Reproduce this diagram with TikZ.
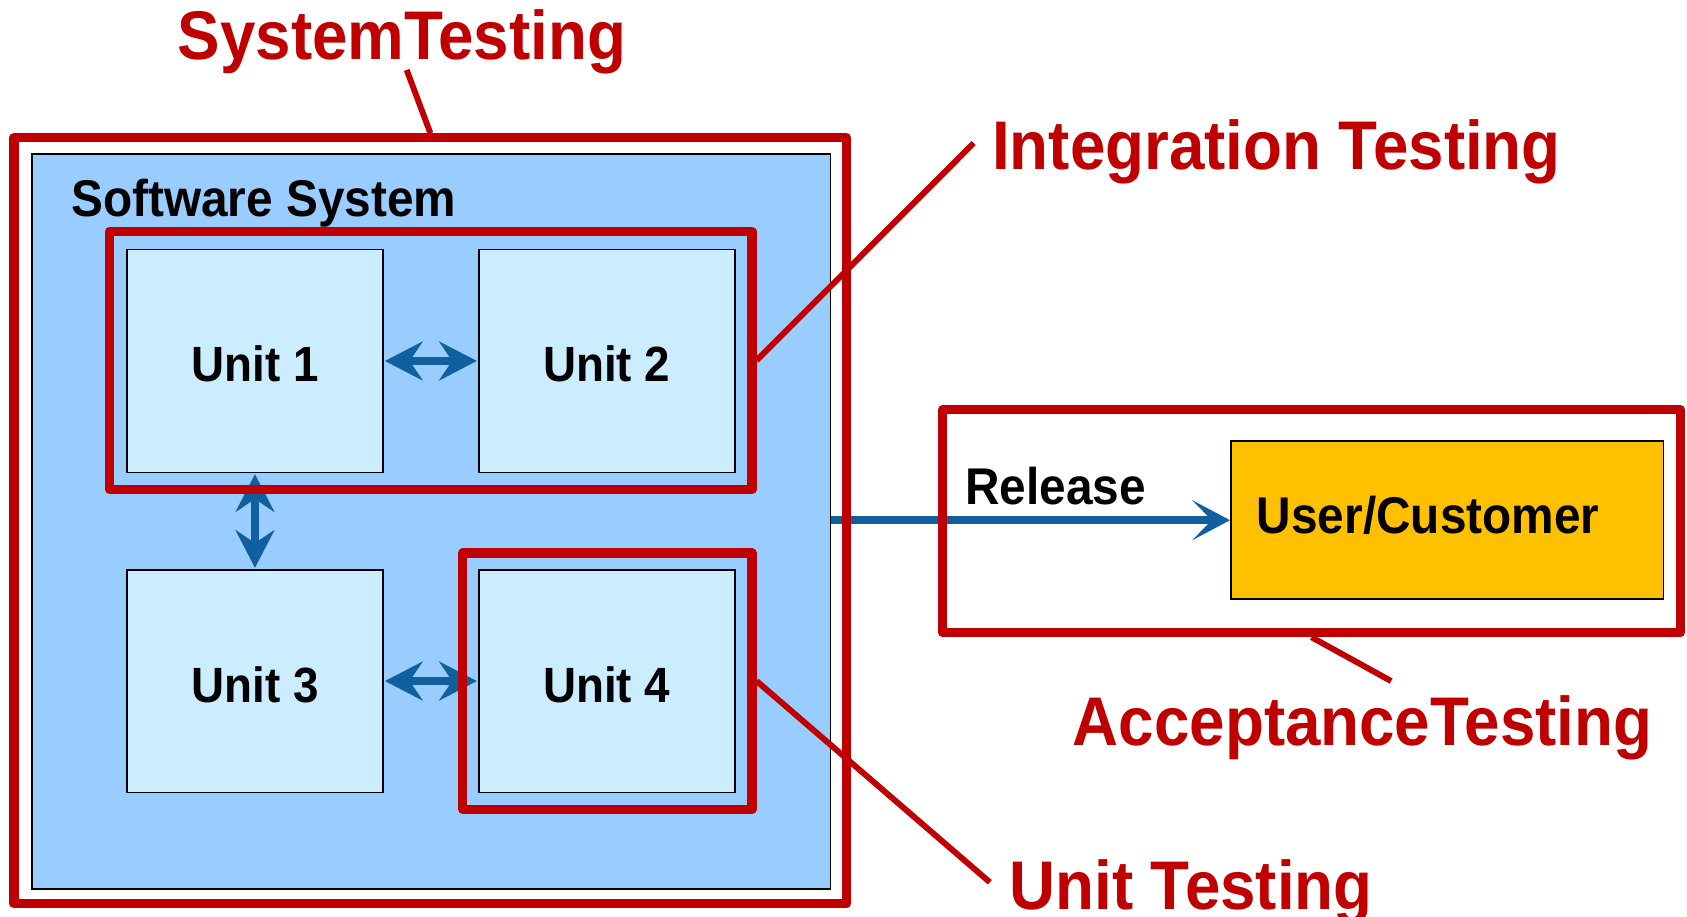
\documentclass[tikz,border=0pt]{standalone}
\usepackage{fontspec}
\setmainfont{Liberation Sans}[FakeStretch=0.925]
\usetikzlibrary{arrows.meta}
\definecolor{tred}{RGB}{192,0,0}
\definecolor{sysblue}{RGB}{153,204,255}
\definecolor{unitblue}{RGB}{204,236,255}
\definecolor{arrblue}{RGB}{16,96,160}
\definecolor{userorange}{RGB}{255,192,0}
\tikzset{
  redbox/.style={draw=tred, line width=8.5pt, line join=round, inner sep=0pt},
  unitbox/.style={draw=black, line width=1.5pt, fill=unitblue, minimum width=238pt, minimum height=207pt, font=\fontsize{46}{50}\selectfont\bfseries, inner sep=0pt, text height=39pt, text depth=0pt},
  sysbox/.style={draw=black, line width=1.5pt, fill=sysblue, inner sep=0pt},
  userbox/.style={draw=black, line width=1.5pt, fill=userorange, inner sep=0pt},
  leader/.style={draw=tred, line width=5.5pt},
  redlabel/.style={text=tred, font=\fontsize{64}{70}\selectfont\bfseries, inner sep=0pt, anchor=base west},
  blacklabel/.style={text=black, font=\fontsize{48}{52}\selectfont\bfseries, inner sep=0pt, anchor=base west},
  dbl/.style={draw=arrblue, line width=8pt, {Stealth[length=35pt,width=36pt,inset=12pt]}-{Stealth[length=35pt,width=36pt,inset=12pt]}, shorten <=1pt, shorten >=1pt},
  relarrow/.style={draw=arrblue, line width=7pt, -{Stealth[length=35pt,width=37pt,inset=18pt]}}
}
\begin{document}
\begin{tikzpicture}[x=1pt,y=-1pt]
\useasboundingbox (0,0) rectangle (1568,852);
% software system box
\node[sysbox, minimum width=742pt, minimum height=683pt] (sys) at (401,484.5) {};
\node[blacklabel] (swlabel) at (66,201) {Software System};
% units
\node[unitbox] (u1) at (237,335.5) {Unit 1};
\node[unitbox] (u2) at (564,335.5) {Unit 2};
\node[unitbox] (u3) at (237,633) {Unit 3};
\node[unitbox] (u4) at (564,633) {Unit 4};
% arrows between units
\draw[dbl] (u1) -- (u2);
\draw[dbl] (u1) -- (u3);
\draw[dbl] (u3) -- (u4);
% user box
\node[userbox, minimum width=402pt, minimum height=147pt] (user) at (1345,483.5) {};
\node[blacklabel] (usertext) at (1168,496) {User/Customer};
% release arrow
\draw[relarrow] (sys.east |- user.west) -- (user.west);
\node[blacklabel] (rel) at (897,469) {Release};
% red test boxes
\node[redbox, minimum width=774pt, minimum height=712pt] (systest) at (400,484) {};
\node[redbox, minimum width=597pt, minimum height=240pt] (inttest) at (400.5,335) {};
\node[redbox, minimum width=269pt, minimum height=238pt] (unittest) at (564.5,633) {};
\node[redbox, minimum width=686pt, minimum height=207pt] (acctest) at (1219,484.5) {};
% labels
\node[redlabel] (lsys) at (165,55) {SystemTesting};
\node[redlabel] (lint) at (922,158) {Integration Testing};
\node[redlabel] (lacc) at (997,693) {AcceptanceTesting};
\node[redlabel] (lunit) at (938,845) {Unit Testing};
% leader lines
\coordinate (csys) at (378,65);
\coordinate (cint) at (905,133);
\coordinate (cacc) at (1293,633);
\coordinate (cunit) at (920,820);
\draw[leader] (csys) -- (systest.north);
\draw[leader] (cint) -- (inttest.east);
\draw[leader] (cacc) -- (acctest.south);
\draw[leader] (cunit) -- (unittest.east);
\end{tikzpicture}
\end{document}
